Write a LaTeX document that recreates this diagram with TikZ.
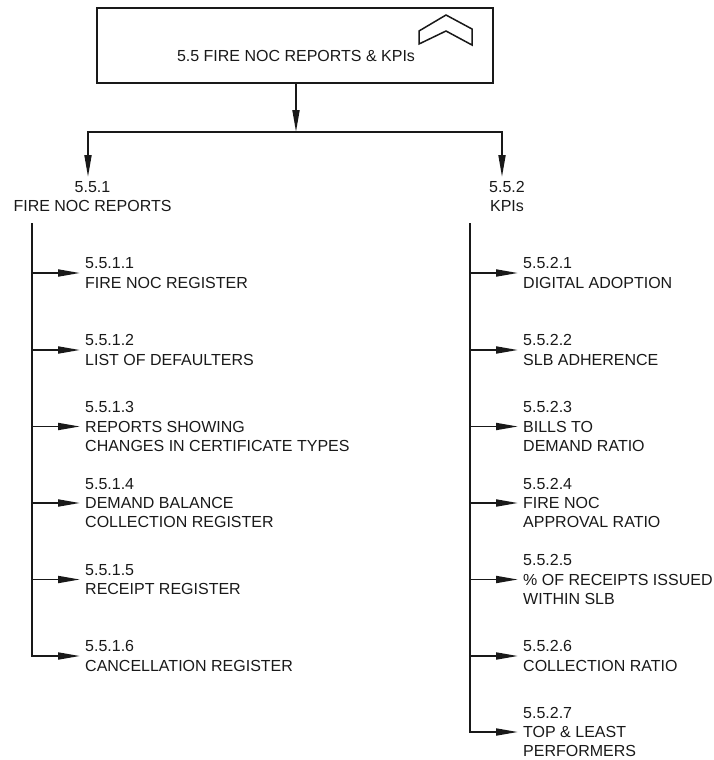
\documentclass[tikz,border=0pt]{standalone}
\usepackage{fontspec}
\setmainfont{Liberation Sans}
\usetikzlibrary{arrows.meta}
\begin{document}
\begin{tikzpicture}[x=1pt,y=-1pt,
  line/.style={line width=1.8pt, draw=black!90},
  arr/.style={line, -{Triangle[length=22pt,width=7pt]}},
  txt/.style={font=\fontsize{16}{19.3}\selectfont, text=black!90, inner sep=0pt},
  item/.style={txt, align=left, anchor=west},
  head/.style={txt, align=center},
  topbox/.style={line, rectangle, minimum width=396pt, minimum height=75pt, inner sep=0pt}]
\useasboundingbox (0,0) rectangle (714,760);
% top box
\node[topbox] (top) at (295,45.5) {};
\node[txt] (title) at (296,56) {5.5 FIRE NOC REPORTS \& KPIs};
\draw[line, line width=1.5pt] (419,31) -- (446,15) -- (472,29) -- (472,45) -- (446,31) -- (419,44) -- cycle;
% junction
\coordinate (j) at (296,132);
\coordinate (aL) at (88,177);
\coordinate (aR) at (502,177);
\draw[arr] (top.south -| j) -- (j);
\draw[arr] (j) -| (aL);
\draw[arr] (j) -| (aR);
% headings
\node[head] (h1) at (92.5,196.5) {5.5.1\\FIRE NOC REPORTS};
\node[head] (h2) at (507,196.5) {5.5.2\\KPIs};
% left column
\coordinate (L0) at (32,223);
\node[item] (l1) at (85,273) {5.5.1.1\\FIRE NOC REGISTER};
\node[item] (l2) at (85,350) {5.5.1.2\\LIST OF DEFAULTERS};
\node[item] (l3) at (85,426.5) {5.5.1.3\\REPORTS SHOWING\\CHANGES IN CERTIFICATE TYPES};
\node[item] (l4) at (85,503) {5.5.1.4\\DEMAND BALANCE\\COLLECTION REGISTER};
\node[item] (l5) at (85,579.5) {5.5.1.5\\RECEIPT REGISTER};
\node[item] (l6) at (85,656) {5.5.1.6\\CANCELLATION REGISTER};
\foreach \n in {l1,l2,l3,l4,l5}
  \draw[arr, shorten >=5pt] (L0 |- \n.west) -- (\n.west);
\draw[arr, shorten >=5pt] (L0) |- (l6.west);
% right column
\coordinate (R0) at (470,223);
\node[item] (r1) at (523,273) {5.5.2.1\\DIGITAL ADOPTION};
\node[item] (r2) at (523,350) {5.5.2.2\\SLB ADHERENCE};
\node[item] (r3) at (523,426.5) {5.5.2.3\\BILLS TO\\DEMAND RATIO};
\node[item] (r4) at (523,503) {5.5.2.4\\FIRE NOC\\APPROVAL RATIO};
\node[item] (r5) at (523,579.5) {5.5.2.5\\\% OF RECEIPTS ISSUED\\WITHIN SLB};
\node[item] (r6) at (523,656) {5.5.2.6\\COLLECTION RATIO};
\node[item] (r7) at (523,732) {5.5.2.7\\TOP \& LEAST\\PERFORMERS};
\foreach \n in {r1,r2,r3,r4,r5,r6}
  \draw[arr, shorten >=5pt] (R0 |- \n.west) -- (\n.west);
\draw[arr, shorten >=5pt] (R0) |- (r7.west);
\end{tikzpicture}
\end{document}
